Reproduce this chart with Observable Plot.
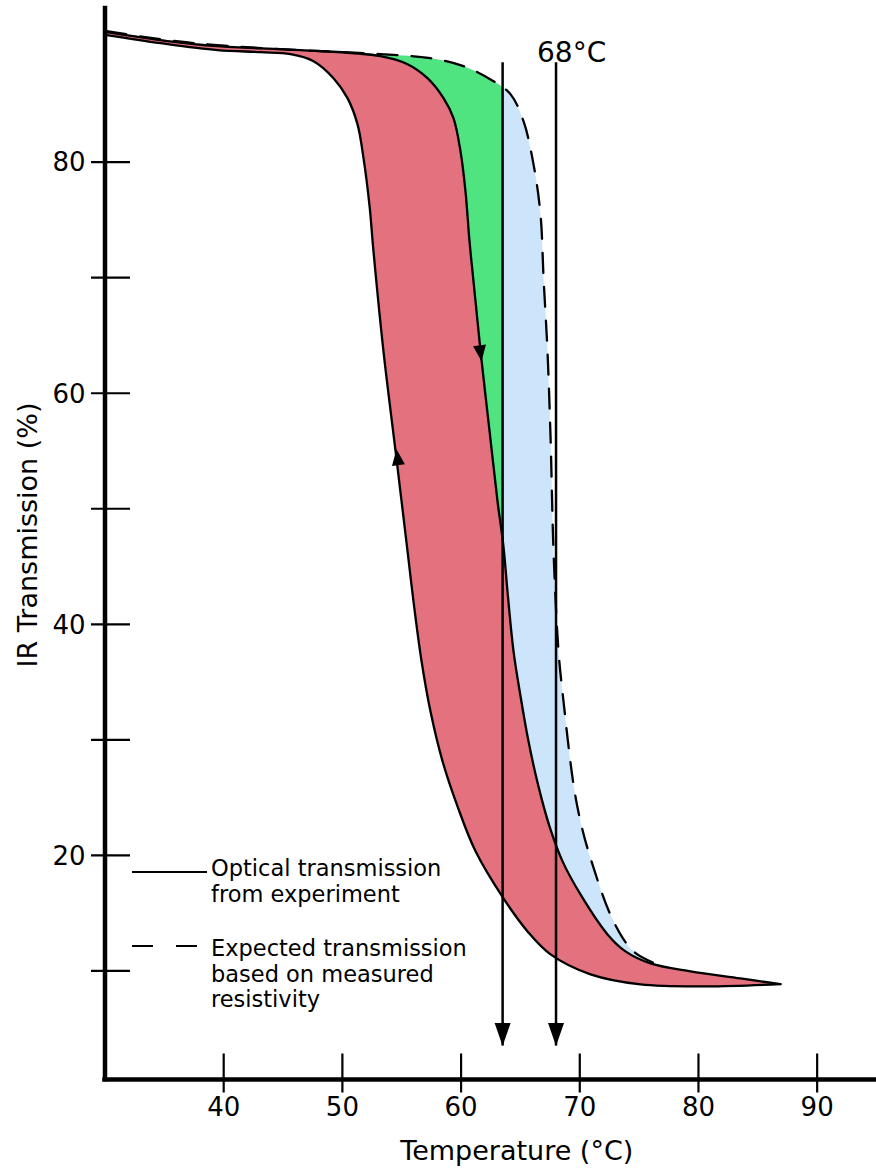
<!DOCTYPE html>
<html>
<head>
<meta charset="utf-8">
<script src="https://cdn.jsdelivr.net/npm/d3@7"></script>
<script src="https://cdn.jsdelivr.net/npm/@observablehq/plot@0.6"></script>
<style>
  html, body { margin: 0; padding: 0; background: #fff; }
  #wrap { width: 876px; height: 1169px; }
</style>
</head>
<body>
<div id="wrap"></div>
<script>
// ---- Data ----
// Cooling branch (left solid curve, arrow pointing up)
const coolingT = [30.13, 34.68, 39.48, 43.10, 45.63, 47.57, 49.25, 50.43, 51.27, 51.78, 52.29, 52.62, 53.46, 54.48, 55.49, 55.99, 56.67, 57.42, 58.44, 59.70, 61.22, 63.57, 65.60, 67.54, 70.91, 75.12, 80.76, 86.91];
const coolingV = [91.0, 90.30, 89.70, 89.52, 89.35, 88.74, 87.27, 85.54, 83.29, 80.35, 76.19, 72.29, 63.64, 54.98, 46.32, 41.99, 36.80, 32.47, 28.14, 24.24, 20.35, 16.28, 13.42, 11.43, 9.70, 8.83, 8.66, 8.85];
// Heating branch (middle solid curve, arrow pointing down)
const heatingT = [30.13, 35.27, 39.48, 46.47, 53.21, 55.49, 57.17, 58.52, 59.36, 59.95, 60.37, 60.71, 61.13, 61.64, 62.40, 63.07, 63.57, 63.91, 64.42, 65.01, 65.68, 66.52, 67.45, 68.55, 70.06, 72.34, 73.85, 75.96, 79.33, 83.54, 86.91];
const heatingV = [91.26, 90.48, 90.04, 89.70, 89.18, 88.48, 87.27, 85.54, 83.81, 80.95, 77.49, 73.16, 68.83, 63.64, 56.71, 50.65, 46.75, 42.86, 37.66, 33.77, 29.87, 25.97, 22.51, 19.48, 16.62, 13.16, 11.69, 10.65, 9.96, 9.35, 8.85];
// Expected transmission from measured resistivity (dashed)
const expectedT = [30.13, 35.27, 39.48, 44.79, 53.21, 57.42, 60.20, 62.73, 64.16, 65.26, 66.10, 66.69, 66.95, 67.28, 67.54, 67.79, 68.21, 68.63, 69.47, 70.06, 70.91, 72.84, 74.53, 76.55];
const expectedV = [91.34, 90.56, 90.13, 89.78, 89.35, 89.00, 88.31, 87.01, 85.89, 83.55, 79.83, 75.50, 69.96, 63.64, 56.10, 46.32, 37.66, 33.33, 26.15, 22.94, 19.74, 14.29, 11.69, 10.56];

// Vertical transition markers
const markerT = [63.5, 68];
const markerLabels = [null, "68°C"];
const arrowTop = 88.6;
const arrowBottom = 3.5;

// Direction arrowheads on the hysteresis loop
const dirT = [54.56, 61.72];
const dirV = [55.15, 62.77];
const dirAngle = [-7, 173];

// Axes
const xDomain = [30, 95];
const yDomain = [0.6, 93.3];
const xTicks = [40, 50, 60, 70, 80, 90];
const yTicks = [10, 20, 30, 40, 50, 60, 70, 80];
const yTickLabels = [20, 40, 60, 80];
const xTitle = "Temperature (°C)";
const yTitle = "IR Transmission (%)";
const legendSolid = ["Optical transmission", "from experiment"];
const legendDashed = ["Expected transmission", "based on measured", "resistivity"];

// Colors
const RED = "#e4717e", GREEN = "#50e480", BLUE = "#cce5fb";

// ---- Build tables ----
const toPts = (T, V) => T.map((t, i) => ({T: t, V: V[i]}));
const cooling = toPts(coolingT, coolingV);
const heating = toPts(heatingT, heatingV);
const expected = toPts(expectedT, expectedV);
const expEnd = expectedT[expectedT.length - 1];
// region between heating and expected curves
const bluePoly = expected.concat(heating.filter(d => d.T <= expEnd).reverse());
// region between cooling and heating curves
const redPoly = cooling.concat(heating.slice().reverse());

// arrowhead symbol: tip at origin, pointing along angle (0 = up)
function head(halfW, len, angleDeg) {
  const a = angleDeg * Math.PI / 180, c = Math.cos(a), s = Math.sin(a);
  const rot = (x, y) => [x * c - y * s, x * s + y * c];
  return {
    draw(ctx) {
      const p0 = rot(0, 0), p1 = rot(halfW, len), p2 = rot(-halfW, len);
      ctx.moveTo(p0[0], p0[1]); ctx.lineTo(p1[0], p1[1]); ctx.lineTo(p2[0], p2[1]); ctx.closePath();
    }
  };
}
// tick symbol crossing the x axis: 26px above, 13px below
const xTickSym = { draw(ctx) { ctx.moveTo(0, -26); ctx.lineTo(0, 13); } };

const font = "DejaVu Sans, sans-serif";
const dirIdx = dirT.map((_, i) => i);

const plot = Plot.plot({
  width: 876, height: 1169,
  marginLeft: 104.5, marginRight: 0, marginTop: 8, marginBottom: 90,
  x: {domain: xDomain, axis: null},
  y: {domain: yDomain, axis: null},
  style: {fontFamily: font, background: "white", color: "black"},
  marks: [
    Plot.line(bluePoly, {x: "T", y: "V", fill: BLUE, stroke: "none", curve: "catmull-rom"}),
    Plot.line(bluePoly, {x: "T", y: "V", fill: GREEN, stroke: "none", curve: "catmull-rom", ariaDescription: "green-fill"}),
    Plot.line(redPoly, {x: "T", y: "V", fill: RED, stroke: "none", curve: "catmull-rom"}),
    Plot.line(cooling, {x: "T", y: "V", stroke: "black", strokeWidth: 2.3, curve: "catmull-rom"}),
    Plot.line(heating, {x: "T", y: "V", stroke: "black", strokeWidth: 2.3, curve: "catmull-rom"}),
    Plot.line(expected, {x: "T", y: "V", stroke: "black", strokeWidth: 2.3, strokeDasharray: "20,14", curve: "catmull-rom"}),
    Plot.ruleX(markerT, {y1: arrowTop, y2: arrowBottom, stroke: "black", strokeWidth: 2.5}),
    Plot.dot(markerT, {x: d => d, y: arrowBottom, symbol: head(8, 23, 180), fill: "black", stroke: "none"}),
    ...dirIdx.map(i => Plot.dot([i], {x: j => dirT[j], y: j => dirV[j], symbol: head(6.5, 16, dirAngle[i]), fill: "black", stroke: "none"})),
    Plot.text(markerT.map((t, i) => i).filter(i => markerLabels[i]), {x: i => markerT[i], y: arrowTop, text: i => markerLabels[i], dx: 15.6, dy: -9.5, fontSize: 28}),
    // axes
    Plot.ruleX([xDomain[0]], {y1: yDomain[0], y2: yDomain[1], stroke: "black", strokeWidth: 4.5, strokeLinecap: "square"}),
    Plot.ruleY([yDomain[0]], {x1: xDomain[0], x2: xDomain[1], stroke: "black", strokeWidth: 4.5, strokeLinecap: "square"}),
    Plot.ruleY(yTicks, {y: d => d, x1: xDomain[0], x2: xDomain[0], insetLeft: -13.5, insetRight: -25.5, stroke: "black", strokeWidth: 2.2}),
    Plot.dot(xTicks, {x: d => d, y: yDomain[0], symbol: xTickSym, fill: "none", stroke: "black", strokeWidth: 2.2}),
    Plot.text(yTickLabels, {x: xDomain[0], y: d => d, text: d => String(d), textAnchor: "end", dx: -19.5, dy: 1, fontSize: 26}),
    Plot.text(xTicks, {x: d => d, y: yDomain[0], text: d => String(d), dy: 28, fontSize: 26}),
    Plot.text([xTitle], {frameAnchor: "bottom", text: d => d, textAnchor: "middle", lineAnchor: "middle", dx: 26, dy: 71.5, fontSize: 27}),
    Plot.text([yTitle], {frameAnchor: "left", text: d => d, textAnchor: "middle", lineAnchor: "middle", rotate: -90, dx: -76.5, dy: -9, fontSize: 27})
  ]
});

document.getElementById("wrap").appendChild(plot);

// clip green region to the left of the first marker line
const svg = d3.select(plot);
const xs = plot.scale("x");
const defs = svg.insert("defs", ":first-child");
defs.append("clipPath").attr("id", "leftOfMarker")
  .append("rect").attr("x", 0).attr("y", 0).attr("width", xs.apply(markerT[0])).attr("height", 1169);
svg.selectAll('g[aria-description="green-fill"]').attr("clip-path", "url(#leftOfMarker)");

// legend (inside plot area, lower left)
const lg = svg.append("g").attr("font-family", font).attr("font-size", 22.5).attr("fill", "black").attr("text-anchor", "start");
lg.append("line").attr("x1", 132).attr("x2", 207).attr("y1", 872).attr("y2", 872).attr("stroke", "black").attr("stroke-width", 2.2);
lg.append("line").attr("x1", 132).attr("x2", 198).attr("y1", 946).attr("y2", 946).attr("stroke", "black").attr("stroke-width", 2.2).attr("stroke-dasharray", "21,23");
legendSolid.forEach((t, i) => lg.append("text").attr("x", 211).attr("y", 876 + i * 26).text(t));
legendDashed.forEach((t, i) => lg.append("text").attr("x", 211).attr("y", 956 + i * 25.5).text(t));
</script>
</body>
</html>
